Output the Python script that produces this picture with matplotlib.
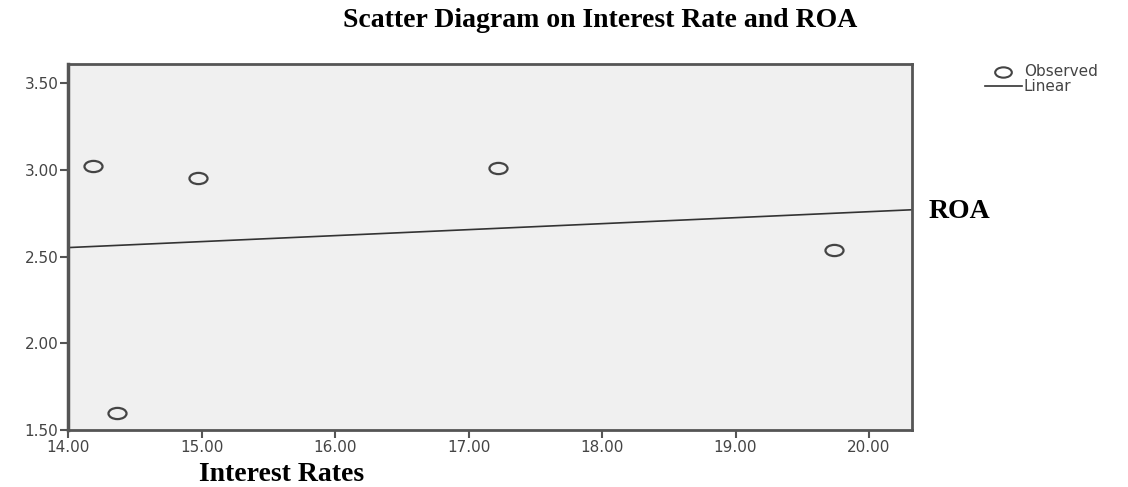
import numpy as np
import matplotlib
matplotlib.use("Agg")
import matplotlib.pyplot as plt
from matplotlib.path import Path
from matplotlib.lines import Line2D
from matplotlib.transforms import Affine2D

interest_rates = [14.19, 14.97, 14.37, 17.22, 19.74]
roa = [3.02, 2.95, 1.60, 3.01, 2.54]

x_ticks = [14, 15, 16, 17, 18, 19, 20]
y_ticks = [1.5, 2.0, 2.5, 3.0, 3.5]

plt.rcParams["font.family"] = ["DejaVu Sans"]

# the original marks look slightly squashed, so use a flat ellipse marker
ellipse = Path.unit_circle().transformed(Affine2D().scale(1.0, 0.62))

fig = plt.figure(figsize=(11.28, 4.87), dpi=100)
ax = fig.add_axes([0.0603, 0.117, 0.748, 0.7516])
ax.set_facecolor("#f0f0f0")

ax.plot(interest_rates, roa, ls="none", marker=ellipse, ms=13,
        mfc="none", mec="#444444", mew=1.6, zorder=3)

# linear fit line
slope, intercept = np.polyfit(interest_rates, roa, 1)
xmin, xmax = 14.0, 20.32
xs = np.array([xmin, xmax])
ax.plot(xs, slope * xs + intercept, color="#333333", lw=1.2)

ax.set_xlim(xmin, xmax)
ax.set_ylim(1.5, 3.61)
ax.set_xticks(x_ticks)
ax.set_xticklabels([f"{v:.2f}" for v in x_ticks])
ax.set_yticks(y_ticks)
ax.set_yticklabels([f"{v:.2f}" for v in y_ticks])
ax.tick_params(direction="out", length=6, width=1.5, color="#555555",
               labelcolor="#444444", labelsize=11, pad=1)
for s in ax.spines.values():
    s.set_color("#555555")
    s.set_linewidth(2)
ax.spines["left"].set_linewidth(2.5)

fig.text(0.532, 0.958, "Scatter Diagram on Interest Rate and ROA",
         ha="center", va="center", fontsize=20, fontweight="bold",
         family="Liberation Serif")
fig.text(0.823, 0.566, "ROA", ha="left", va="center", fontsize=20,
         fontweight="bold", family="Liberation Serif")
fig.text(0.176, 0.0, "Interest Rates", ha="left", va="bottom", fontsize=20,
         fontweight="bold", family="Liberation Serif")

# legend outside the plot, top right
fig.add_artist(Line2D([0.889], [1 - 72 / 487], marker=ellipse, ms=12,
                      mfc="none", mec="#444444", mew=1.5,
                      transform=fig.transFigure))
fig.text(0.908, 1 - 72 / 487, "Observed", ha="left", va="center",
         fontsize=11, color="#444444")
fig.add_artist(Line2D([0.873, 0.906], [1 - 86 / 487, 1 - 86 / 487],
                      color="#333333", lw=1.2, transform=fig.transFigure))
fig.text(0.907, 1 - 86 / 487, "Linear", ha="left", va="center",
         fontsize=11, color="#444444")

fig.savefig("out.png", dpi=100)
